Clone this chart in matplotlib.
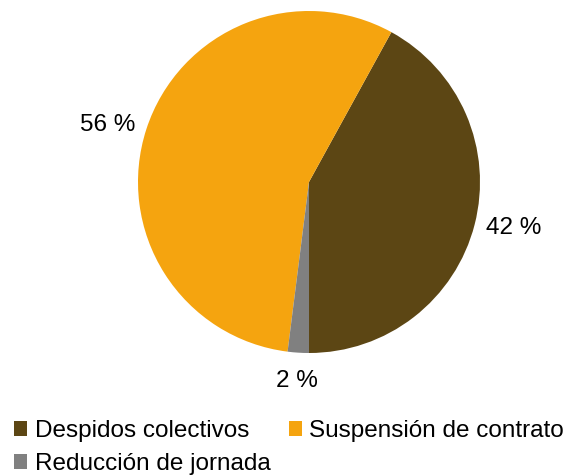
import numpy as np
import matplotlib.pyplot as plt

plt.rcParams['font.family'] = ['Liberation Sans', 'DejaVu Sans']

# datos
categorias = ['Despidos colectivos', 'Suspensión de contrato', 'Reducción de jornada']
porcentajes = [42, 56, 2]
colores = ['#5c4614', '#f5a40f', '#808080']

W, H = 563, 475
fig = plt.figure(figsize=(W / 100, H / 100), dpi=100)

# círculo: centro (309, 182) px, radio 171 px
cx, cy, r = 309, 182, 171
ax = fig.add_axes([(cx - r) / W, (H - cy - r) / H, 2 * r / W, 2 * r / H])
wedges, _ = ax.pie(porcentajes, colors=colores, startangle=-90, counterclock=True,
                   wedgeprops=dict(linewidth=0))
ax.set_xlim(-1, 1)
ax.set_ylim(-1, 1)
ax.set_aspect('equal')
ax.axis('off')

# etiquetas de porcentaje fuera del círculo
for w, p in zip(wedges, porcentajes):
    ang = np.deg2rad((w.theta1 + w.theta2) / 2)
    c, s = np.cos(ang), np.sin(ang)
    ha = 'left' if c > 0.3 else ('right' if c < -0.3 else 'center')
    va = 'center' if abs(s) < 0.7 else ('top' if s < 0 else 'bottom')
    d = 1.07 if va == 'center' else 1.1
    ax.text(d * c, d * s, f'{p} %', ha=ha, va=va, fontsize=17.5, color='#000000')

# leyenda (orden por filas: se rellena por columnas)
orden = [0, 2, 1]
fig.legend([wedges[i] for i in orden], [categorias[i] for i in orden], ncol=2,
           loc='upper left', bbox_to_anchor=(14 / W, 1 - 420 / H), frameon=False,
           fontsize=17.5, handlelength=0.55, handleheight=0.55, handletextpad=0.3,
           columnspacing=0.75, labelspacing=0.45, borderpad=0, borderaxespad=0)

fig.savefig('out.png', dpi=100)
